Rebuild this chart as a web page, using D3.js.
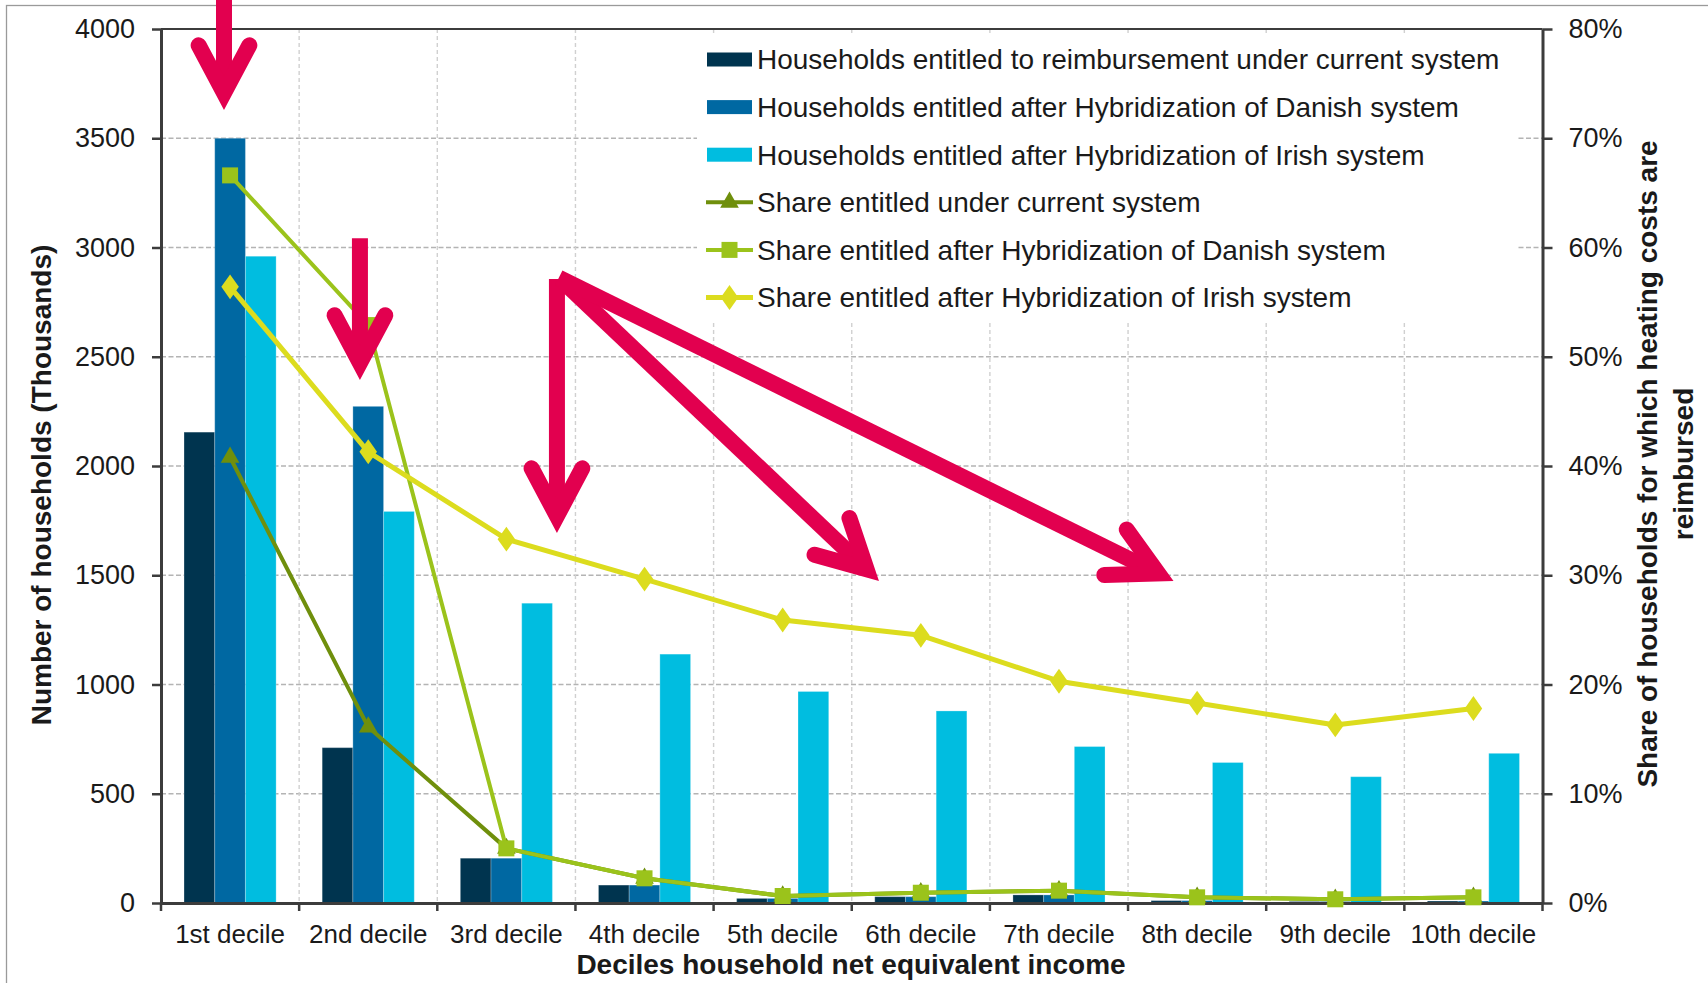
<!DOCTYPE html>
<html>
<head>
<meta charset="utf-8">
<script src="https://cdn.jsdelivr.net/npm/d3@7"></script>
<style>
  body { margin: 0; background: #fff; }
  svg { display: block; }
  text { font-family: "Liberation Sans", Arial, sans-serif; fill: #1a1a1a; }
  .narrow { font-family: "Liberation Sans Narrow", "Arial Narrow", "Liberation Sans", Arial, sans-serif; font-stretch: condensed; }
</style>
</head>
<body>
<svg id="chart" width="1708" height="983"></svg>
<script>
// ---- data ----
const deciles = ["1st decile", "2nd decile", "3rd decile", "4th decile", "5th decile",
                 "6th decile", "7th decile", "8th decile", "9th decile", "10th decile"];

// households (thousands)
const householdsCurrent = [2155, 711, 205, 82, 21, 29, 37, 11, 7, 9];
const householdsDanish  = [3500, 2273, 205, 82, 21, 29, 37, 11, 7, 9];
const householdsIrish   = [2960, 1792, 1372, 1139, 968, 879, 716, 643, 578, 685];

// share of households reimbursed
const shareCurrent = [0.408, 0.161, 0.050, 0.0226, 0.0064, 0.0094, 0.0113, 0.0052, 0.0034, 0.0052];
const shareDanish  = [0.666, 0.529, 0.050, 0.0226, 0.0064, 0.0094, 0.0113, 0.0052, 0.0034, 0.0052];
const shareIrish   = [0.564, 0.413, 0.333, 0.2965, 0.259, 0.245, 0.203, 0.183, 0.163, 0.178];

const leftTicks  = [0, 500, 1000, 1500, 2000, 2500, 3000, 3500, 4000];
const rightTicks = [0, 0.1, 0.2, 0.3, 0.4, 0.5, 0.6, 0.7, 0.8];

const barSeriesNames = [
  "Households entitled to reimbursement under current system",
  "Households entitled after Hybridization of Danish system",
  "Households entitled after Hybridization of Irish system"
];
const lineSeriesNames = [
  "Share entitled under current system",
  "Share entitled after Hybridization of Danish system",
  "Share entitled after Hybridization of Irish system"
];

const xTitle = "Deciles household net equivalent income";
const yLeftTitle = "Number of households (Thousands)";
const yRightTitle = ["Share of households for which heating costs are", "reimbursed"];

// highlight arrows: [decile, position within decile, value on the household axis]
const arrowNotes = [
  { from: ["1st decile", 0.456, 4150], to: ["1st decile", 0.456, 3629] },
  { from: ["2nd decile", 0.44, 3042],  to: ["2nd decile", 0.44, 2394] },
  { from: ["3rd decile", 0.866, 2856], to: ["3rd decile", 0.866, 1693] },
  { from: ["3rd decile", 0.89, 2856],  to: ["6th decile", 0.197, 1474] },
  { from: ["3rd decile", 0.88, 2862],  to: ["8th decile", 0.329, 1474] }
];

// ---- styling ----
const barColors  = ["#00344f", "#0068a2", "#00bde0"];
const lineColors = ["#6f8f0c", "#9bc31b", "#dcdc1e"];
const lineWidths = [4, 4, 5];
const markerTypes = [d3.symbolTriangle, d3.symbolSquare, d3.symbolDiamond];
const arrowColor = "#e2004f";

// ---- layout ----
const svg = d3.select("#chart");
const plot = { left: 161, right: 1542.5, top: 29, bottom: 903 };

// outer frame
svg.append("rect")
  .attr("x", 6.5).attr("y", 5.5).attr("width", 1760).attr("height", 1040)
  .attr("fill", "#fff").attr("stroke", "#9a9a9a").attr("stroke-width", 1.3);

const x = d3.scaleBand().domain(deciles).range([plot.left, plot.right]).padding(0);
const bw = x.bandwidth();
const xInner = d3.scaleBand().domain([0, 1, 2]).range([bw / 6, bw * 5 / 6]).padding(0);
const yL = d3.scaleLinear().domain([0, 4000]).range([plot.bottom, plot.top]);
const yR = d3.scaleLinear().domain([0, 0.8]).range([plot.bottom, plot.top]);

// gridlines
const grid = svg.append("g");
grid.selectAll("line.h").data(leftTicks.filter(t => t > 0 && t < 4000)).join("line")
  .attr("x1", plot.left).attr("x2", plot.right)
  .attr("y1", d => yL(d)).attr("y2", d => yL(d))
  .attr("stroke", "#b4b4b4").attr("stroke-width", 1.6).attr("stroke-dasharray", "5,2.5");
grid.selectAll("line.v").data(deciles.slice(1)).join("line")
  .attr("x1", d => x(d)).attr("x2", d => x(d))
  .attr("y1", plot.top).attr("y2", plot.bottom)
  .attr("stroke", "#d0d0d0").attr("stroke-width", 1.4).attr("stroke-dasharray", "4,3");

// legend background (covers the gridlines under it)
const legend = { x: 697, y: 35, w: 819, h: 286, swatchX: 707, swatchW: 45, textX: 757, row0: 59.5, rowGap: 47.6 };
svg.append("rect").attr("x", legend.x).attr("y", legend.y)
  .attr("width", legend.w).attr("height", legend.h).attr("fill", "#fff");

// bars
const barData = [householdsCurrent, householdsDanish, householdsIrish];
const barG = svg.append("g");
barData.forEach((vals, si) => {
  barG.selectAll(null).data(vals).join("rect")
    .attr("x", (d, i) => x(deciles[i]) + xInner(si))
    .attr("width", xInner.bandwidth())
    .attr("y", d => yL(d))
    .attr("height", d => yL(0) - yL(d))
    .attr("fill", barColors[si])
    .attr("stroke", "#ffffff").attr("stroke-opacity", 0.25).attr("stroke-width", 1);
});

// top border of plot area
svg.append("line").attr("x1", plot.left).attr("x2", plot.right)
  .attr("y1", plot.top).attr("y2", plot.top)
  .attr("stroke", "#3c3c3c").attr("stroke-width", 2);

// axes
const axisColor = "#3c3c3c";
function styleAxis(g) {
  g.selectAll("path.domain").attr("stroke", axisColor).attr("stroke-width", 3);
  g.selectAll(".tick line").attr("stroke", axisColor).attr("stroke-width", 2.5);
  g.selectAll(".tick text").attr("font-family", "'Liberation Sans', Arial, sans-serif")
    .attr("fill", "#222");
}

const gL = svg.append("g").attr("transform", `translate(${plot.left},0)`)
  .call(d3.axisLeft(yL).tickValues(leftTicks).tickSizeInner(9).tickSizeOuter(0).tickPadding(17).tickFormat(d3.format("d")));
gL.selectAll(".tick text").attr("font-size", 27);
styleAxis(gL);

const gR = svg.append("g").attr("transform", `translate(${plot.right},0)`)
  .call(d3.axisRight(yR).tickValues(rightTicks).tickSizeInner(10).tickSizeOuter(0).tickPadding(16).tickFormat(d3.format(".0%")));
gR.selectAll(".tick text").attr("font-size", 27);
styleAxis(gR);

const gB = svg.append("g").attr("transform", `translate(0,${plot.bottom})`)
  .call(d3.axisBottom(x).tickSize(0).tickPadding(0));
gB.selectAll(".tick text").attr("font-size", 26).attr("y", 39.5).attr("dy", 0);
styleAxis(gB);
// boundary tick marks between deciles
gB.selectAll("line.bound").data(deciles.concat(["__end"])).join("line")
  .attr("x1", (d, i) => i < deciles.length ? x(d) : plot.right)
  .attr("x2", (d, i) => i < deciles.length ? x(d) : plot.right)
  .attr("y1", 0).attr("y2", 8)
  .attr("stroke", axisColor).attr("stroke-width", 2.5);

// lines with markers
const shareData = [shareCurrent, shareDanish, shareIrish];
const markerSize = [150, 256, 220];
const lineG = svg.append("g");
shareData.forEach((vals, si) => {
  const line = d3.line().x((d, i) => x(deciles[i]) + bw / 2).y(d => yR(d));
  lineG.append("path").datum(vals).attr("d", line)
    .attr("fill", "none").attr("stroke", lineColors[si]).attr("stroke-width", lineWidths[si])
    .attr("stroke-linejoin", "round");
  lineG.selectAll(null).data(vals).join("path")
    .attr("transform", (d, i) => `translate(${x(deciles[i]) + bw / 2},${yR(d)})` + (si === 2 ? " scale(1.1,0.9)" : ""))
    .attr("d", d3.symbol().type(markerTypes[si]).size(markerSize[si]))
    .attr("fill", lineColors[si]);
});

// legend
const legG = svg.append("g");
barSeriesNames.forEach((name, i) => {
  const cy = legend.row0 + i * legend.rowGap;
  legG.append("rect").attr("x", legend.swatchX).attr("y", cy - 7)
    .attr("width", legend.swatchW).attr("height", 14).attr("fill", barColors[i]);
  legG.append("text").attr("class", "narrow").attr("x", legend.textX).attr("y", cy)
    .attr("dy", "0.35em").attr("font-size", 28).text(name);
});
lineSeriesNames.forEach((name, i) => {
  const cy = legend.row0 + (i + 3) * legend.rowGap;
  legG.append("line").attr("x1", legend.swatchX - 1).attr("x2", legend.swatchX + legend.swatchW + 1)
    .attr("y1", cy).attr("y2", cy).attr("stroke", lineColors[i]).attr("stroke-width", lineWidths[i]);
  legG.append("path")
    .attr("transform", `translate(${legend.swatchX + legend.swatchW / 2},${cy})` + (i === 2 ? " scale(1.1,0.9)" : ""))
    .attr("d", d3.symbol().type(markerTypes[i]).size(markerSize[i])).attr("fill", lineColors[i]);
  legG.append("text").attr("class", "narrow").attr("x", legend.textX).attr("y", cy)
    .attr("dy", "0.35em").attr("font-size", 28).text(name);
});

// axis titles
svg.append("text").attr("transform", "translate(41,485) rotate(-90)")
  .attr("text-anchor", "middle").attr("dy", "0.35em")
  .attr("font-size", 28).attr("font-weight", "bold").text(yLeftTitle);
svg.append("text").attr("x", 851).attr("y", 974)
  .attr("text-anchor", "middle").attr("font-size", 28).attr("font-weight", "bold").text(xTitle);
yRightTitle.forEach((t, i) => {
  svg.append("text").attr("class", "narrow")
    .attr("transform", `translate(${1647 + i * 36},464) rotate(-90)`)
    .attr("text-anchor", "middle").attr("dy", "0.35em")
    .attr("font-size", 28).attr("font-weight", "bold").text(t);
});

// highlight arrows
const arrowW = 16, headAngle = 28 * Math.PI / 180, headLen = 54;
const pt = ([cat, frac, v]) => [x(cat) + frac * bw, yL(v)];
const arrowG = svg.append("g").attr("fill", "none").attr("stroke", arrowColor).attr("stroke-width", arrowW);
arrowNotes.forEach(a => {
  const p0 = pt(a.from), t = pt(a.to);
  const dx = t[0] - p0[0], dy = t[1] - p0[1], len = Math.hypot(dx, dy);
  const ux = dx / len, uy = dy / len;
  const m = (arrowW / 2) / Math.sin(headAngle);
  const c = [t[0] - ux * m, t[1] - uy * m];
  const rot = ang => [ux * Math.cos(ang) - uy * Math.sin(ang), ux * Math.sin(ang) + uy * Math.cos(ang)];
  const r1 = rot(headAngle), r2 = rot(-headAngle);
  const a1 = [c[0] - r1[0] * headLen, c[1] - r1[1] * headLen];
  const a2 = [c[0] - r2[0] * headLen, c[1] - r2[1] * headLen];
  arrowG.append("line").attr("x1", p0[0]).attr("y1", p0[1]).attr("x2", c[0]).attr("y2", c[1]);
  arrowG.append("path").attr("d", `M${a1}L${c}L${a2}`)
    .attr("stroke-linejoin", "miter").attr("stroke-linecap", "round");
});
</script>
</body>
</html>
